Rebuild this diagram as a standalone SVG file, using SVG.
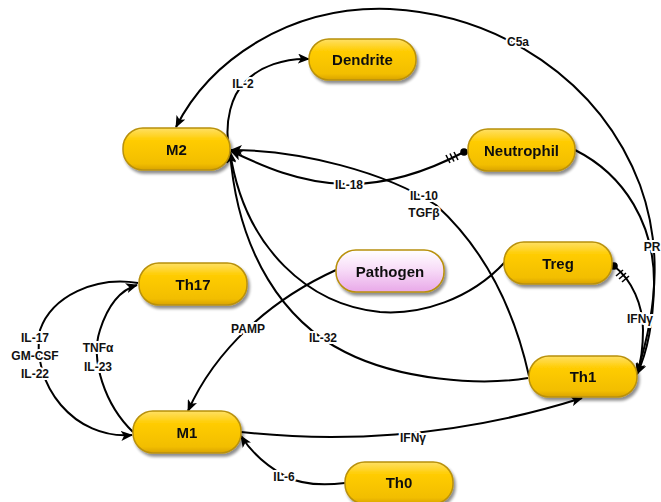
<svg xmlns="http://www.w3.org/2000/svg" width="661" height="502" viewBox="0 0 661 502">
<style>
.node rect.body{stroke:#B8900A;stroke-width:1.5}
.gold{fill:url(#gold)}
.pink{fill:url(#pink);stroke:#C890C8}
.nt{font-family:"Liberation Sans",Arial,sans-serif;font-weight:bold;font-size:15px;fill:#111;text-anchor:middle}
.lb{font-family:"Liberation Sans",Arial,sans-serif;font-weight:bold;font-size:12px;fill:#111;text-anchor:middle;paint-order:stroke;stroke:#fff;stroke-width:4px;stroke-linejoin:round}
.c{fill:none;stroke:#000;stroke-width:2}
.a{marker-end:url(#arr)}
.bar{stroke:#000;stroke-width:1.6}
</style>
<defs>
<linearGradient id="gold" x1="0" y1="0" x2="0" y2="1">
<stop offset="0" stop-color="#FFE066"/>
<stop offset="0.3" stop-color="#FFCC00"/>
<stop offset="0.85" stop-color="#F2BE00"/>
<stop offset="1" stop-color="#D9A300"/>
</linearGradient>
<linearGradient id="pink" x1="0" y1="0" x2="0" y2="1">
<stop offset="0" stop-color="#FFFFFF"/>
<stop offset="0.45" stop-color="#F8DDF8"/>
<stop offset="1" stop-color="#E8A8E8"/>
</linearGradient>
<filter id="sh" x="-10%" y="-20%" width="130%" height="150%">
<feGaussianBlur in="SourceAlpha" stdDeviation="1.5"/>
<feOffset dx="2" dy="2.5"/>
<feComponentTransfer><feFuncA type="linear" slope="0.45"/></feComponentTransfer>
<feMerge><feMergeNode/><feMergeNode in="SourceGraphic"/></feMerge>
</filter>
<marker id="arr" markerWidth="12" markerHeight="10" viewBox="0 0 12 10" refX="11" refY="5" orient="auto" markerUnits="userSpaceOnUse">
<path d="M0,0 L12,5 L0,10 L3,5 Z" fill="#000"/>
</marker>
</defs>
<rect width="661" height="502" fill="#fff"/>

<g id="connectors">
<!-- C5a: Th1 to M2 -->
<path class="c a" d="M637 373 C660 300,660 240,640 185 C600 80,500 15,390 9 C290 5,210 60,176 127"/>
<!-- PR: Neutrophil to Th1 -->
<path class="c a" d="M575 150 C625 175,655 225,654 285 C653 330,646 355,637 374"/>
<!-- IFNg: Treg to Th1 with inhibition -->
<path class="c a" d="M614 266 C632 280,643 305,643 330 C643 350,641 362,637 374"/>
<circle cx="614" cy="266" r="3.8" fill="#000"/>
<line class="bar" x1="616" y1="276" x2="623" y2="270"/>
<line class="bar" x1="619" y1="279" x2="626" y2="273"/>
<line class="bar" x1="622" y1="282" x2="629" y2="276"/>
<!-- IL-18: Neutrophil to M2 with inhibition -->
<path class="c a" d="M464 152 C430 170,390 185,345 184 C300 183,262 166,231 151"/>
<circle cx="464" cy="152" r="3.8" fill="#000"/>
<line class="bar" x1="446" y1="155" x2="450" y2="163"/>
<line class="bar" x1="450" y1="153.5" x2="454" y2="161.5"/>
<line class="bar" x1="454" y1="152" x2="458" y2="160"/>
<!-- IL-10 TGFb: Th1 to M2 -->
<path class="c a" d="M529 376 C512 300,480 245,436 205 C385 172,300 150,231 150"/>
<!-- Treg to M2 -->
<path class="c a" d="M505 262 C470 300,420 315,380 312 C310 305,245 250,230 152"/>
<!-- IL-32: Th1 to M2 -->
<path class="c a" d="M528 378 C480 386,400 380,345 352 C285 322,238 255,230 152"/>
<!-- IL-2: M2 to Dendrite -->
<path class="c a" d="M229 150 C224 120,232 95,245 82 C260 66,285 58,309 59"/>
<!-- PAMP: Pathogen to M1 -->
<path class="c a" d="M336 270 C270 300,215 350,188 411"/>
<!-- IL-6: Th0 to M1 -->
<path class="c a" d="M345 483 C320 486,300 484,285 476 C265 465,250 450,241 436"/>
<!-- IFNg: M1 to Th1 -->
<path class="c a" d="M241 432 C330 442,450 440,582 398"/>
<!-- IL-17 GM-CSF IL-22: Th17 to M1 -->
<path class="c a" d="M138 283 C95 276,52 296,40 330 C30 385,75 440,132 435"/>
<!-- TNFa IL-23: M1 to Th17 -->
<path class="c a" d="M133 432 C105 405,90 360,100 330 C108 305,120 290,137 285"/>

<!-- labels -->
<text class="lb" x="518" y="46">C5a</text>
<text class="lb" x="243" y="88">IL-2</text>
<text class="lb" x="349" y="189">IL-18</text>
<text class="lb" x="424" y="200">IL-10</text>
<text class="lb" x="424" y="217">TGFβ</text>
<text class="lb" x="652" y="251">PR</text>
<text class="lb" x="640" y="323">IFNγ</text>
<text class="lb" x="323" y="342">IL-32</text>
<text class="lb" x="248" y="333">PAMP</text>
<text class="lb" x="413" y="442">IFNγ</text>
<text class="lb" x="284" y="481">IL-6</text>
<text class="lb" x="35" y="342">IL-17</text>
<text class="lb" x="35" y="360">GM-CSF</text>
<text class="lb" x="35" y="378">IL-22</text>
<text class="lb" x="98" y="352">TNFα</text>
<text class="lb" x="98" y="371">IL-23</text>
</g>

<g id="Dendrite" class="node" filter="url(#sh)"><rect class="body gold" x="309" y="39" width="107" height="41" rx="20"/><text class="nt" x="362.5" y="65">Dendrite</text></g>
<g id="M2" class="node" filter="url(#sh)"><rect class="body gold" x="123" y="128" width="107" height="42" rx="20"/><text class="nt" x="176.5" y="154.5">M2</text></g>
<g id="Neutrophil" class="node" filter="url(#sh)"><rect class="body gold" x="468" y="129" width="107" height="42" rx="20"/><text class="nt" x="521.5" y="155.5">Neutrophil</text></g>
<g id="Th17" class="node" filter="url(#sh)"><rect class="body gold" x="139" y="263" width="108" height="42" rx="20"/><text class="nt" x="193" y="289.5">Th17</text></g>
<g id="Pathogen" class="node" filter="url(#sh)"><rect class="body pink" x="336" y="250" width="108" height="42" rx="20"/><text class="nt" x="390" y="276.5">Pathogen</text></g>
<g id="Treg" class="node" filter="url(#sh)"><rect class="body gold" x="504" y="242" width="108" height="42" rx="20"/><text class="nt" x="558" y="268.5">Treg</text></g>
<g id="Th1" class="node" filter="url(#sh)"><rect class="body gold" x="529" y="356" width="108" height="41" rx="20"/><text class="nt" x="583" y="382">Th1</text></g>
<g id="M1" class="node" filter="url(#sh)"><rect class="body gold" x="133" y="411" width="108" height="42" rx="20"/><text class="nt" x="187" y="437.5">M1</text></g>
<g id="Th0" class="node" filter="url(#sh)"><rect class="body gold" x="345" y="462" width="108" height="42" rx="20"/><text class="nt" x="399" y="488">Th0</text></g>
</svg>
